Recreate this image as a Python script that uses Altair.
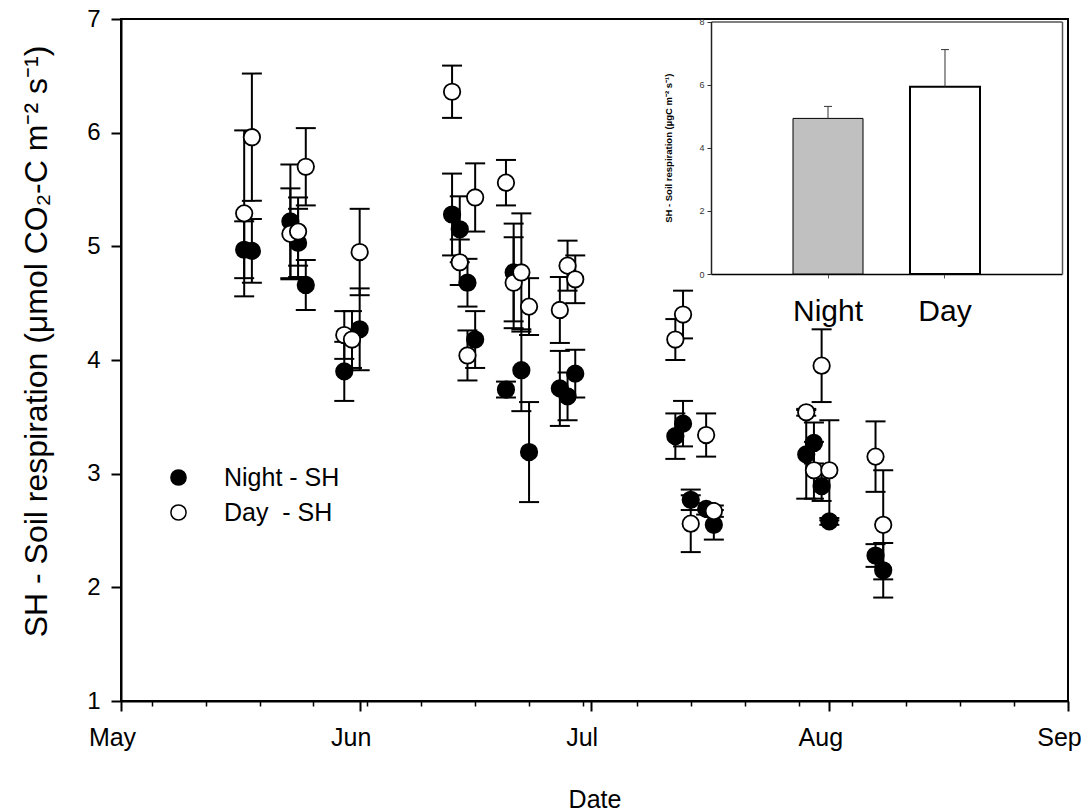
import altair as alt
import pandas as pd

# ---------------- data ----------------
night_dates = ["2013-05-17", "2013-05-18", "2013-05-23", "2013-05-24", "2013-05-25",
               "2013-05-30", "2013-06-01", "2013-06-13", "2013-06-14", "2013-06-15",
               "2013-06-16", "2013-06-20", "2013-06-21", "2013-06-22", "2013-06-23",
               "2013-06-27", "2013-06-28", "2013-06-29", "2013-07-12", "2013-07-13",
               "2013-07-14", "2013-07-16", "2013-07-17", "2013-07-29", "2013-07-30",
               "2013-07-31", "2013-08-01", "2013-08-07", "2013-08-08"]
night_mean = [4.97, 4.96, 5.22, 5.03, 4.66, 3.90, 4.27, 5.28, 5.15, 4.68,
              4.18, 3.74, 4.77, 3.91, 3.19, 3.75, 3.68, 3.88, 3.33, 3.44,
              2.77, 2.69, 2.55, 3.17, 3.27, 2.89, 2.58, 2.28, 2.15]
night_err = [0.25, 0.28, 0.50, 0.30, 0.22, 0.26, 0.36, 0.36, 0.29, 0.21,
             0.25, 0.07, 0.43, 0.36, 0.44, 0.33, 0.21, 0.21, 0.20, 0.20,
             0.09, 0.05, 0.13, 0.39, 0.18, 0.13, 0.03, 0.10, 0.24]

day_dates = ["2013-05-17", "2013-05-18", "2013-05-23", "2013-05-24", "2013-05-25",
             "2013-05-30", "2013-05-31", "2013-06-01", "2013-06-13", "2013-06-14",
             "2013-06-15", "2013-06-16", "2013-06-20", "2013-06-21", "2013-06-22",
             "2013-06-23", "2013-06-27", "2013-06-28", "2013-06-29", "2013-07-12",
             "2013-07-13", "2013-07-14", "2013-07-16", "2013-07-17", "2013-07-29",
             "2013-07-30", "2013-07-31", "2013-08-01", "2013-08-07", "2013-08-08"]
day_mean = [5.29, 5.96, 5.11, 5.13, 5.70, 4.22, 4.18, 4.95, 6.36, 4.86,
            4.04, 5.43, 5.56, 4.68, 4.77, 4.47, 4.44, 4.83, 4.71, 4.18,
            4.40, 2.56, 3.34, 2.67, 3.54, 3.03, 3.95, 3.03, 3.15, 2.55]
day_err = [0.73, 0.56, 0.40, 0.30, 0.34, 0.21, 0.25, 0.38, 0.23, 0.20,
           0.22, 0.30, 0.20, 0.40, 0.52, 0.25, 0.29, 0.22, 0.21, 0.18,
           0.21, 0.25, 0.19, 0.05, 0.03, 0.25, 0.32, 0.44, 0.31, 0.48]

series_names = ["Night - SH", "Day\u00a0 - SH"]

month_ticks = ["2013-05-01", "2013-06-01", "2013-07-01", "2013-08-01", "2013-09-01"]
week_ticks = ["2013-05-05", "2013-05-12", "2013-05-19", "2013-05-26", "2013-06-02",
              "2013-06-09", "2013-06-16", "2013-06-23", "2013-06-30", "2013-07-07",
              "2013-07-14", "2013-07-21", "2013-07-28", "2013-08-04", "2013-08-11",
              "2013-08-18", "2013-08-25"]
y_ticks = [1, 2, 3, 4, 5, 6, 7]

inset_cats = ["Night", "Day"]
inset_mean = [4.93, 5.93]
inset_err = [0.38, 1.18]
inset_ticks = [0, 2, 4, 6, 8]

# ---------------- layout constants ----------------
W, H = 947, 682
FONT = "Liberation Sans"
FS = 25


def dt(s):
    y, m, d = map(int, s.split("-"))
    return alt.DateTime(year=y, month=m, date=d, utc=True)


rows = []
for name, ds, ms, es in [(series_names[0], night_dates, night_mean, night_err),
                         (series_names[1], day_dates, day_mean, day_err)]:
    for d, m, e in zip(ds, ms, es):
        rows.append({"date": d, "series": name, "mean": m, "err": e})
df = pd.DataFrame(rows)

xscale = alt.Scale(type="utc", domain=[dt(month_ticks[0]), dt(month_ticks[-1])])
yscale = alt.Scale(domain=[1, 7], nice=False, zero=False)

base = alt.Chart(df).transform_calculate(
    lo="datum.mean - datum.err", hi="datum.mean + datum.err"
)

minor_axis = alt.Axis(orient="bottom", values=[dt(s) for s in week_ticks], labels=False,
                      domain=False, tickSize=5, tickWidth=1.5, tickColor="black",
                      title=None, grid=False)
major_axis = alt.Axis(orient="bottom", values=[dt(s) for s in month_ticks], format="%b",
                      title="Date", tickSize=10, tickWidth=2, tickColor="black",
                      domainWidth=2, domainColor="black", labelFont=FONT, labelFontSize=FS,
                      labelColor="black", labelPadding=14, labelFlush=False,
                      labelOffset=-9, labelOverlap=False, titleFont=FONT, titleFontSize=FS,
                      titleFontWeight="normal", titleColor="black", titlePadding=37,
                      grid=False)
y_axis = alt.Axis(orient="left", values=y_ticks, tickSize=10, tickWidth=2, tickColor="black",
                  domainWidth=2, domainColor="black", labelFont=FONT, labelFontSize=24,
                  labelColor="black", labelPadding=11,
                  title="SH - Soil respiration (\u03bcmol CO\u2082-C m\u207b\u00b2 s\u207b\u00b9)",
                  titleFont=FONT, titleFontSize=32, titleFontWeight="normal",
                  titleColor="black", titlePadding=33, titleY=322, grid=False)

err_rule = base.mark_rule(color="black", strokeWidth=2).encode(
    x=alt.X("date:T", scale=xscale, axis=minor_axis),
    y=alt.Y("lo:Q", scale=yscale, axis=y_axis),
    y2="hi:Q",
)
cap_lo = base.mark_tick(color="black", orient="horizontal", size=20, thickness=2,
                        opacity=1).encode(
    x=alt.X("date:T", scale=xscale, axis=None),
    y=alt.Y("lo:Q", scale=yscale, axis=None),
)
cap_hi = base.mark_tick(color="black", orient="horizontal", size=20, thickness=2,
                        opacity=1).encode(
    x=alt.X("date:T", scale=xscale, axis=None),
    y=alt.Y("hi:Q", scale=yscale, axis=None),
)

legend = alt.Legend(title=None, orient="none", legendX=45, legendY=446,
                    labelFont=FONT, labelFontSize=FS, labelColor="black",
                    symbolType="circle", symbolSize=230, symbolStrokeColor="black",
                    symbolStrokeWidth=1.5, symbolOpacity=1, labelOffset=33,
                    rowPadding=9, padding=0)

pts = base.mark_circle(size=270, stroke="black", strokeWidth=1.8, opacity=1).encode(
    x=alt.X("date:T", scale=xscale, axis=major_axis),
    y=alt.Y("mean:Q", scale=yscale, axis=None),
    fill=alt.Fill("series:N", scale=alt.Scale(domain=series_names, range=["black", "white"]),
                  legend=legend),
)

main = alt.layer(err_rule, cap_lo, cap_hi, pts).resolve_axis(x="independent", y="independent")

# ---------------- inset bar chart ----------------
idf = pd.DataFrame({"cat": inset_cats, "mean": inset_mean, "err": inset_err})
I_LEFT, I_RIGHT, I_TOP, I_BOTTOM = 590, 941, 2.5, 255
ix = alt.Scale(domain=inset_cats, range=[I_LEFT, I_RIGHT], paddingInner=0.4017,
               paddingOuter=0.7009)
iy = alt.Scale(domain=[0, 8], range=[I_BOTTOM, I_TOP], nice=False)

ibase = alt.Chart(idf).transform_calculate(hi="datum.mean + datum.err")

ibars = ibase.mark_bar(stroke="black").encode(
    x=alt.X("cat:N", scale=ix, sort=inset_cats,
            axis=alt.Axis(orient="bottom", offset=-(H - I_BOTTOM), title=None, labelAngle=0,
                          tickSize=4, tickColor="#555555", domainColor="black",
                          domainWidth=1.5, labelFont=FONT, labelFontSize=30,
                          labelColor="black", labelPadding=18, grid=False)),
    y=alt.Y("mean:Q", scale=iy,
            axis=alt.Axis(orient="left", offset=-I_LEFT, values=inset_ticks, tickSize=4,
                          tickColor="#333333", domainColor="#222222", domainWidth=1.5,
                          labelFont=FONT, labelFontSize=9, labelColor="#333333",
                          labelPadding=3,
                          title="SH - Soil respiration (\u00b5gC m\u207b\u00b2 s\u207b\u00b9)",
                          titleFont=FONT, titleFontSize=9.5, titleFontWeight="bold",
                          titleColor="black", titlePadding=25, grid=False)),
    fill=alt.Fill("cat:N", scale=alt.Scale(domain=inset_cats, range=["#c0c0c0", "white"]),
                  legend=None),
    strokeWidth=alt.condition(alt.datum.cat == "Day", alt.value(2), alt.value(1)),
)
irule = ibase.mark_rule(color="#333333", strokeWidth=1).encode(
    x=alt.X("cat:N", scale=ix, sort=inset_cats,
            axis=alt.Axis(orient="top", offset=-I_TOP, labels=False, ticks=False,
                          domainColor="#555555", domainWidth=1.5, title=None, grid=False)),
    y=alt.Y("mean:Q", scale=iy,
            axis=alt.Axis(orient="right", offset=-(W - I_RIGHT), labels=False, ticks=False,
                          domainColor="#555555", domainWidth=1.5, title=None, grid=False)),
    y2="hi:Q",
)
icap = ibase.mark_tick(color="#333333", orient="horizontal", size=8, thickness=1,
                       opacity=1).encode(
    x=alt.X("cat:N", scale=ix, sort=inset_cats, axis=None),
    y=alt.Y("hi:Q", scale=iy, axis=None),
)

inset = alt.layer(ibars, irule, icap).resolve_axis(x="independent", y="independent")

chart = alt.layer(main, inset).resolve_scale(
    x="independent", y="independent", fill="independent"
).properties(
    width=W, height=H,
    autosize=alt.AutoSizeParams(type="none"),
    padding={"left": 121, "top": 19, "right": 1085 - 121 - W, "bottom": 812 - 19 - H},
    background="white",
).configure_view(stroke="black", strokeWidth=2)

chart.save("out.html", embed_options={"renderer": "svg", "actions": False})
